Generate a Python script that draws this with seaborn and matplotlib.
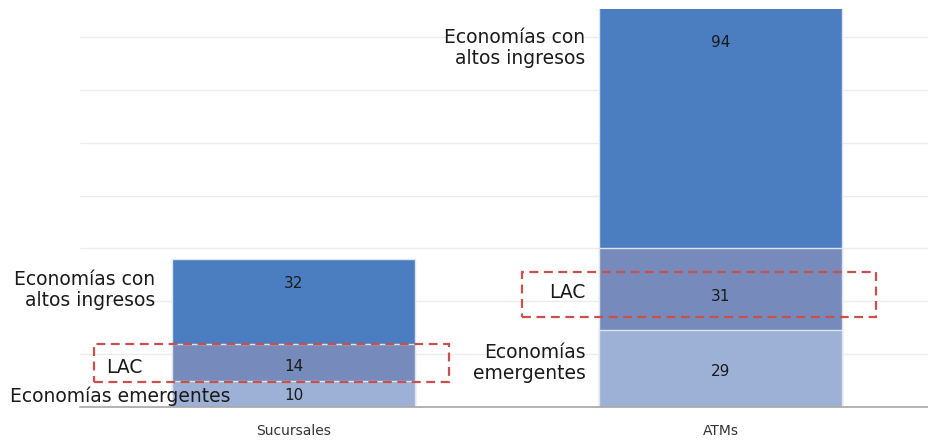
import matplotlib
matplotlib.use("Agg")
import matplotlib.pyplot as plt
import seaborn as sns
import numpy as np
import pandas as pd
from matplotlib.patches import Rectangle

categories = ["Sucursales", "ATMs"]
emergentes = [10, 29]
lac = [14, 31]
altos = [32, 94]

sns.set_theme(style="white")
plt.rcParams['font.family'] = ['DejaVu Sans']

c_altos = "#4a7ec0"
c_lac = "#768abb"
c_emer = "#9db1d6"

fig = plt.figure(figsize=(9.29, 4.40), dpi=100)
ax = fig.add_axes([80/929, 33/440, (934-80)/929, (407-9)/440])

cum1 = np.array(emergentes)
cum2 = cum1 + np.array(lac)
cum3 = cum2 + np.array(altos)

df = pd.DataFrame({"cat": categories, "c1": cum1, "c2": cum2, "c3": cum3})
w = 0.567
for col, colr in [("c3", c_altos), ("c2", c_lac), ("c1", c_emer)]:
    sns.barplot(data=df, x="cat", y=col, color=colr, width=w, ax=ax,
                edgecolor="#dfe5ee", linewidth=1.0, saturation=1, zorder=3)

ax.set_xlim(-0.5, 1.5)
ax.set_ylim(0, 150.6)
ax.set_yticks(np.arange(0, 150, 20))
ax.yaxis.grid(True, color="#ececec", linewidth=1.0, zorder=0)
ax.set_axisbelow(True)
ax.tick_params(axis="y", left=False, labelleft=False)
ax.tick_params(axis="x", bottom=False, labelsize=10, pad=6)
for lbl in ax.get_xticklabels():
    lbl.set_color("#333333")
ax.set_xlabel("")
ax.set_ylabel("")
for s in ["top", "right", "left"]:
    ax.spines[s].set_visible(False)
ax.spines["bottom"].set_color("#a6a6a6")
ax.spines["bottom"].set_linewidth(1.2)
ax.spines["bottom"].set_zorder(5)

# value labels
val_pos = {
    0: [(emergentes[0], 4.3), (lac[0], 15.2), (altos[0], 46.9)],
    1: [(emergentes[1], 13.6), (lac[1], 42.0), (altos[1], 138.0)],
}
for i, lst in val_pos.items():
    for v, y in lst:
        ax.text(i, y, f"{v}", ha="center", va="center", fontsize=11,
                color="#1a1a1a", zorder=6)

# series labels
lab_fs = 13.5
ls = 1.18
ax.text(-0.323, 44.3, "Economías con\naltos ingresos", ha="right", va="center",
        fontsize=lab_fs, color="#1a1a1a", linespacing=ls, zorder=6)
ax.text(-0.438, 15.1, "LAC", ha="left", va="center", fontsize=lab_fs,
        color="#1a1a1a", zorder=6)
ax.text(-0.663, 4.2, "Economías emergentes", ha="left", va="center",
        fontsize=lab_fs, color="#1a1a1a", zorder=6)

ax.text(0.684, 135.8, "Economías con\naltos ingresos", ha="right", va="center",
        fontsize=lab_fs, color="#1a1a1a", linespacing=ls, zorder=6)
ax.text(0.684, 43.5, "LAC", ha="right", va="center", fontsize=lab_fs,
        color="#1a1a1a", zorder=6)
ax.text(0.684, 16.6, "Economías\nemergentes", ha="right", va="center",
        fontsize=lab_fs, color="#1a1a1a", linespacing=ls, zorder=6)

# dashed highlight boxes around LAC
boxes = [(-0.468, 9.5, 0.833, 14.3), (1 - 0.466, 34.1, 0.831, 17.0)]
for x0, y0, bw, bh in boxes:
    ax.add_patch(Rectangle((x0, y0), bw, bh, fill=False, edgecolor="#c9504d",
                           linestyle=(0, (4, 2.5)), linewidth=1.6, zorder=7,
                           clip_on=False))

fig.savefig("out.png", dpi=100, facecolor="white")
